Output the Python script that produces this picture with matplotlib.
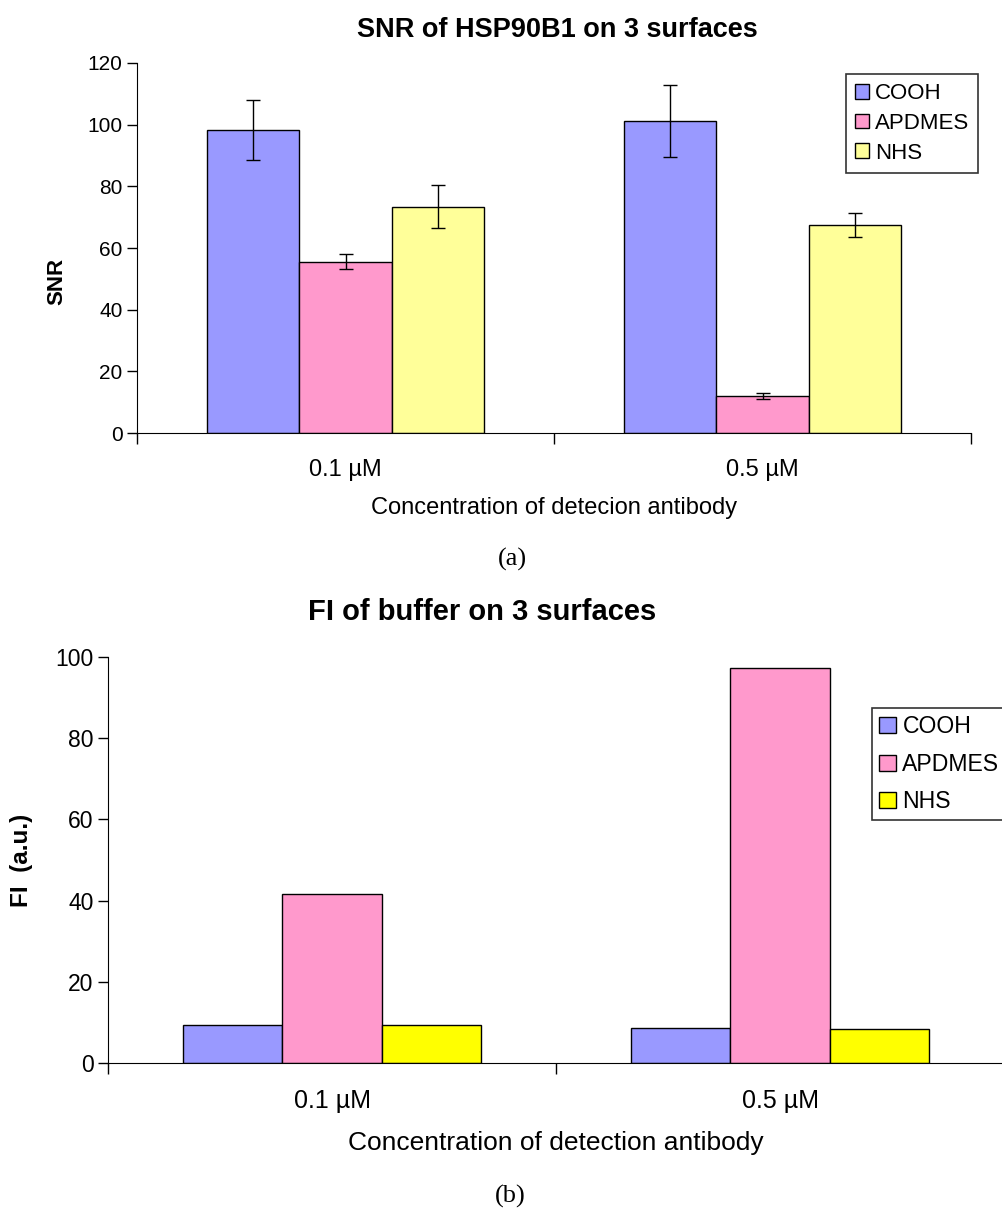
import numpy as np
import matplotlib
matplotlib.use('Agg')
import matplotlib.pyplot as plt

# values
concentrations = ['0.1 µM', '0.5 µM']
surfaces = ['COOH', 'APDMES', 'NHS']
snr_cooh = [98.3, 101.3]
snr_apdmes = [55.5, 12.0]
snr_nhs = [73.4, 67.5]
snr_cooh_err = [9.7, 11.7]
snr_apdmes_err = [2.4, 1.0]
snr_nhs_err = [7.0, 4.0]
fi_cooh = [9.3, 8.6]
fi_apdmes = [41.6, 97.3]
fi_nhs = [9.3, 8.3]

plt.rcParams['font.family'] = ['Liberation Sans', 'DejaVu Sans']

W, H = 1002, 1210
fig = plt.figure(figsize=(W / 100, H / 100), dpi=100)


def px_axes(left, top, right, bottom):
    return fig.add_axes([left / W, 1 - bottom / H, (right - left) / W, (bottom - top) / H])


def style_axes(ax, ymax, step, tick_fs, cat_fs, cat_pad):
    ax.set_xlim(-0.5, 1.5)
    ax.set_ylim(0, ymax)
    ax.set_yticks(np.arange(0, ymax + 1, step))
    for s in ['top', 'right']:
        ax.spines[s].set_visible(False)
    ax.set_xticks([-0.5, 0.5, 1.5])
    ax.set_xticklabels([])
    ax.tick_params(axis='x', which='major', direction='out', length=8, width=1)
    ax.set_xticks([0, 1], minor=True)
    ax.set_xticklabels(concentrations, minor=True, fontsize=cat_fs)
    ax.tick_params(axis='x', which='minor', length=0, pad=cat_pad)
    ax.tick_params(axis='y', direction='out', length=7, width=1, labelsize=tick_fs)


x = np.arange(len(concentrations))
w = 0.221
err_kw = dict(ecolor='black', elinewidth=1, capsize=5, capthick=1)

# (a) SNR
ax1 = px_axes(137, 63, 971, 433)
ax1.bar(x - w, snr_cooh, w, yerr=snr_cooh_err, color='#9999FF', edgecolor='black', linewidth=1, label=surfaces[0], error_kw=err_kw)
ax1.bar(x, snr_apdmes, w, yerr=snr_apdmes_err, color='#FF99CC', edgecolor='black', linewidth=1, label=surfaces[1], error_kw=err_kw)
ax1.bar(x + w, snr_nhs, w, yerr=snr_nhs_err, color='#FFFF99', edgecolor='black', linewidth=1, label=surfaces[2], error_kw=err_kw)
style_axes(ax1, 120, 20, 15, 17, 19)
ax1.set_ylabel('SNR', fontsize=16, fontweight='bold')
ax1.yaxis.set_label_coords(-0.084, 0.41)
ax1.set_xlabel('Concentration of detecion antibody', fontsize=17)
ax1.xaxis.set_label_coords(0.5, -0.172)
leg1 = ax1.legend(loc='upper left', bbox_to_anchor=((846 - 137) / 834, (433 - 74) / 370),
                  fontsize=16, frameon=True, fancybox=False, edgecolor='black',
                  handlelength=0.65, handleheight=0.65, handletextpad=0.25,
                  labelspacing=0.4, borderpad=0.4, borderaxespad=0)
leg1.get_frame().set_linewidth(1.2)
fig.text(557 / W, 1 - 30 / H, 'SNR of HSP90B1 on 3 surfaces', ha='center', va='center',
         fontsize=19.5, fontweight='bold')
fig.text(512 / W, 1 - 559 / H, '(a)', ha='center', va='center', fontsize=19,
         family='Liberation Serif')

# (b) FI of buffer
ax2 = px_axes(108, 657, 1004, 1063)
ax2.bar(x - w, fi_cooh, w, color='#9999FF', edgecolor='black', linewidth=1, label=surfaces[0])
ax2.bar(x, fi_apdmes, w, color='#FF99CC', edgecolor='black', linewidth=1, label=surfaces[1])
ax2.bar(x + w, fi_nhs, w, color='#FFFF00', edgecolor='black', linewidth=1, label=surfaces[2])
style_axes(ax2, 100, 20, 16.5, 18, 19)
ax2.set_ylabel('FI  (a.u.)', fontsize=17.5, fontweight='bold')
ax2.yaxis.set_label_coords(-0.084, 0.5)
ax2.set_xlabel('Concentration of detection antibody', fontsize=19)
ax2.xaxis.set_label_coords(0.5, -0.168)
leg2 = ax2.legend(loc='upper left', bbox_to_anchor=((872 - 108) / 896, (1063 - 708) / 406),
                  fontsize=16.6, frameon=True, fancybox=False, edgecolor='black',
                  handlelength=0.7, handleheight=0.7, handletextpad=0.3,
                  labelspacing=0.62, borderpad=0.32, borderaxespad=0)
leg2.get_frame().set_linewidth(1.2)
fig.text(482 / W, 1 - 612 / H, 'FI of buffer on 3 surfaces', ha='center', va='center',
         fontsize=21, fontweight='bold')
fig.text(510 / W, 1 - 1196 / H, '(b)', ha='center', va='center', fontsize=19,
         family='Liberation Serif')

fig.savefig('out.png', dpi=100)
